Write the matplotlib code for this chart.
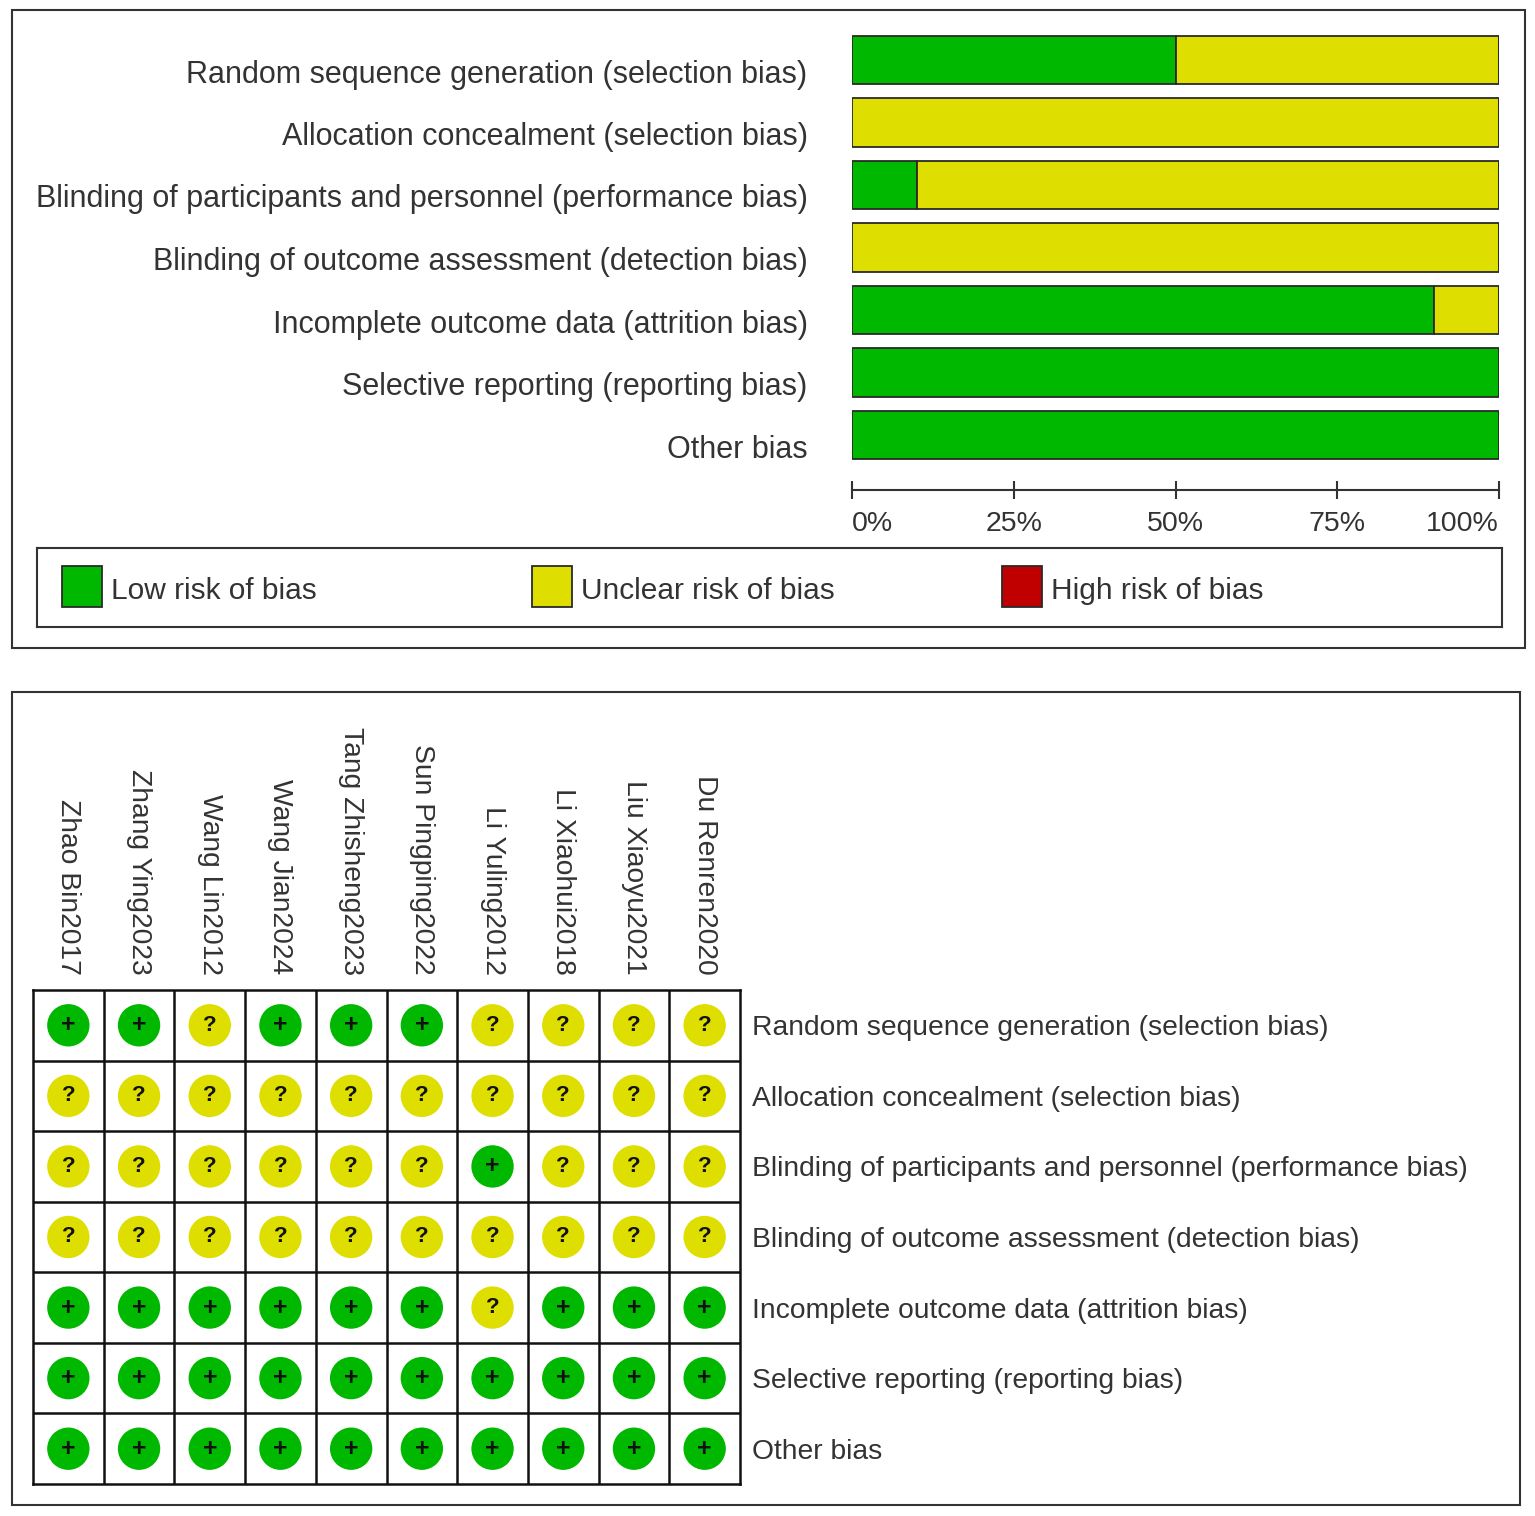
import numpy as np
import matplotlib
matplotlib.use('Agg')
import matplotlib.pyplot as plt
import matplotlib.transforms as mtransforms
from matplotlib.patches import Rectangle

plt.rcParams['font.family'] = ['Liberation Sans', 'DejaVu Sans']

# Datos
dominios = ['Random sequence generation (selection bias)',
            'Allocation concealment (selection bias)',
            'Blinding of participants and personnel (performance bias)',
            'Blinding of outcome assessment (detection bias)',
            'Incomplete outcome data (attrition bias)',
            'Selective reporting (reporting bias)',
            'Other bias']
estudios = ['Zhao Bin2017', 'Zhang Ying2023', 'Wang Lin2012', 'Wang Jian2024',
            'Tang Zhisheng2023', 'Sun Pingping2022', 'Li Yuling2012',
            'Li Xiaohui2018', 'Liu Xiaoyu2021', 'Du Renren2020']
# '+' = bajo, '?' = incierto, '-' = alto (una fila por dominio)
juicios = [
    ['+', '+', '?', '+', '+', '+', '?', '?', '?', '?'],
    ['?', '?', '?', '?', '?', '?', '?', '?', '?', '?'],
    ['?', '?', '?', '?', '?', '?', '+', '?', '?', '?'],
    ['?', '?', '?', '?', '?', '?', '?', '?', '?', '?'],
    ['+', '+', '+', '+', '+', '+', '?', '+', '+', '+'],
    ['+', '+', '+', '+', '+', '+', '+', '+', '+', '+'],
    ['+', '+', '+', '+', '+', '+', '+', '+', '+', '+'],
]
niveles = ['+', '?', '-']
etiquetas_leyenda = ['Low risk of bias', 'Unclear risk of bias', 'High risk of bias']
colores = {'+': '#00B800', '?': '#DEDE00', '-': '#C00000'}
ticks_pct = [0, 25, 50, 75, 100]

W, H = 1535, 1516
gris = '#333333'

fig = plt.figure(figsize=(W / 100, H / 100), dpi=100)


def caja(x0, y0, x1, y1):
    # pixeles -> fraccion de la figura
    return [x0 / W, 1 - y1 / H, (x1 - x0) / W, (y1 - y0) / H]


# Marcos de los dos paneles
for (x0, y0, x1, y1) in [(12, 10, 1525, 648), (12, 692, 1520, 1505)]:
    b = caja(x0, y0, x1, y1)
    fig.patches.append(Rectangle((b[0], b[1]), b[2], b[3], transform=fig.transFigure,
                                 fill=False, ec=gris, lw=1.5))

# ---- Panel superior: porcentajes por dominio ----
ax1 = fig.add_axes(caja(852, 28.75, 1499, 466.25))
M = np.array(juicios)
y = np.arange(len(dominios))
izquierda = np.zeros(len(dominios))
for nv in niveles:
    pct = (M == nv).sum(axis=1) / M.shape[1] * 100
    ax1.barh(y, pct, left=izquierda, height=0.77, color=colores[nv],
             edgecolor='#2a2a2a', linewidth=1.3)
    izquierda += pct
ax1.set_ylim(len(dominios) - 0.5, -0.5)
ax1.set_xlim(0, 100)
ax1.set_yticks(y)
ax1.set_yticklabels(dominios, fontsize=22, color=gris)
ax1.tick_params(axis='y', length=0, pad=32)
# las etiquetas quedan algo por debajo del centro de la barra
baja = mtransforms.ScaledTranslation(0, -0.11, fig.dpi_scale_trans)
for t in ax1.get_yticklabels():
    t.set_transform(t.get_transform() + baja)
for s in ['top', 'right', 'left']:
    ax1.spines[s].set_visible(False)
ax1.spines['bottom'].set_position(('outward', 17))
ax1.spines['bottom'].set_linewidth(1.5)
ax1.spines['bottom'].set_color(gris)
ax1.set_xticks(ticks_pct)
ax1.set_xticklabels([f'{t}%' for t in ticks_pct], fontsize=20.5, color=gris)
ax1.tick_params(axis='x', direction='inout', length=13, width=1.5, color=gris, pad=9)
lbls = ax1.get_xticklabels()
lbls[0].set_ha('left')
lbls[-1].set_ha('right')

# Leyenda
axl = fig.add_axes(caja(37, 548, 1502, 627))
axl.set_xticks([])
axl.set_yticks([])
for s in axl.spines.values():
    s.set_linewidth(1.5)
    s.set_color(gris)
for i, (nv, et) in enumerate(zip(niveles, etiquetas_leyenda)):
    x0 = (62 + 470 * i - 37) / 1465
    axl.add_patch(Rectangle((x0, 0.253), 40 / 1465, 0.519, transform=axl.transAxes,
                            fc=colores[nv], ec='#2a2a2a', lw=1.3))
    axl.text(x0 + 49 / 1465, 0.45, et, transform=axl.transAxes, fontsize=21.5,
             color=gris, va='center', ha='left')

# ---- Panel inferior: matriz de juicios ----
ax2 = fig.add_axes(caja(33, 990, 740, 1484))
nr, nc = M.shape
ax2.set_xlim(0, nc)
ax2.set_ylim(nr, 0)
ax2.hlines(np.arange(1, nr), 0, nc, color='#111111', lw=1.8)
ax2.vlines(np.arange(1, nc), 0, nr, color='#111111', lw=1.8)
for s in ax2.spines.values():
    s.set_linewidth(1.8)
    s.set_color('#111111')
for i in range(nr):
    for j in range(nc):
        v = M[i, j]
        ax2.scatter(j + 0.5, i + 0.5, s=930, color=colores[v], edgecolors='none', zorder=3)
        ax2.text(j + 0.5, i + 0.5, v, fontsize=16 if v == '?' else 18,
                 fontweight='bold', ha='center', va='center', color='#111111', zorder=4)
ax2.set_xticks(np.arange(nc) + 0.5)
ax2.set_xticklabels(estudios, rotation=-90, fontsize=20.3, color=gris,
                    ha='center', va='bottom')
ax2.xaxis.tick_top()
ax2.tick_params(axis='x', length=0, pad=11)
ax2.set_yticks(np.arange(nr) + 0.5)
ax2.set_yticklabels(dominios, fontsize=20.3, color=gris)
ax2.yaxis.tick_right()
ax2.tick_params(axis='y', length=0, pad=9)

fig.savefig('out.png', dpi=100)
